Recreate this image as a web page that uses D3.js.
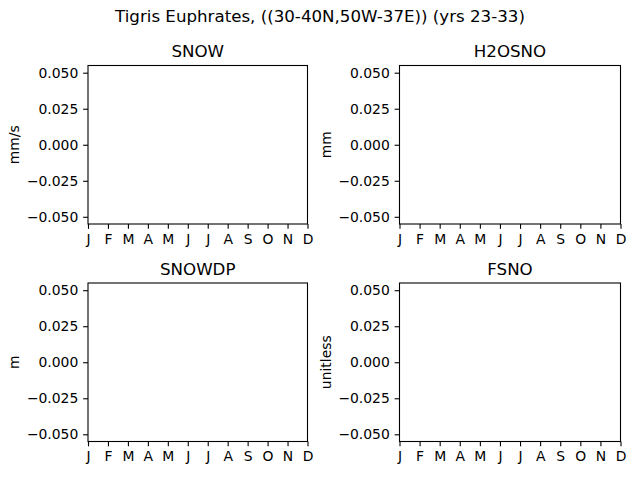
<!DOCTYPE html>
<html><head><meta charset="utf-8">
<script src="https://cdn.jsdelivr.net/npm/d3@7"></script>
<style>body{margin:0;background:#fff}svg{display:block;font-family:"DejaVu Sans",sans-serif}</style>
</head><body>
<script>
const months = ["J","F","M","A","M","J","J","A","S","O","N","D"];
const panelTitles = ["SNOW","H2OSNO","SNOWDP","FSNO"];
const panelUnits = ["mm/s","mm","m","unitless"];
const seriesValues = [[],[],[],[]]; // no data in this region
const yTicks = [-0.05,-0.025,0,0.025,0.05];
const yDomain = [-0.055,0.055];
const suptitle = "Tigris Euphrates, ((30-40N,50W-37E)) (yrs 23-33)";

const W=640,H=480;
const svg=d3.select("body").append("svg").attr("width",W).attr("height",H);
svg.append("text").attr("x",320).attr("y",22).attr("text-anchor","middle")
  .attr("font-size",16.67).text(suptitle);

const cols=[[88,307.5],[399.5,620.5]];
const rows=[[65.5,224],[283,441.5]];
const fmt=v=>d3.format(".3f")(v).replace("-","\u2212");

panelTitles.forEach((t,i)=>{
  const [x0,x1]=cols[i%2],[y0,y1]=rows[Math.floor(i/2)];
  const x=d3.scaleLinear().domain([0,11]).range([x0,x1]);
  const y=d3.scaleLinear().domain(yDomain).range([y1,y0]);
  const g=svg.append("g");
  const ya=g.append("g").attr("transform",`translate(${x0},0)`)
    .call(d3.axisLeft(y).tickValues(yTicks).tickFormat(fmt).tickSize(4.86).tickPadding(4.86));
  ya.select(".domain").remove();
  const xa=g.append("g").attr("transform",`translate(0,${y1})`)
    .call(d3.axisBottom(x).tickValues(d3.range(12)).tickFormat(d=>months[d]).tickSize(4.86).tickPadding(4.86));
  xa.select(".domain").remove();
  [ya,xa].forEach(a=>{a.selectAll("text").attr("font-size",13.9).attr("font-family","DejaVu Sans").attr("fill","#000");
    a.selectAll("line").attr("stroke","#000").attr("stroke-width",1.1);});
  g.append("path").datum(seriesValues[i]).attr("fill","none").attr("stroke","#1f77b4")
    .attr("d",d3.line().x((d,j)=>x(j)).y(d=>y(d)));
  g.append("rect").attr("x",x0).attr("y",y0).attr("width",x1-x0).attr("height",y1-y0)
    .attr("fill","none").attr("stroke","#000").attr("stroke-width",1.1);
  g.append("text").attr("x",(x0+x1)/2).attr("y",y0-8.3).attr("text-anchor","middle")
    .attr("font-size",16.67).text(t);
  const lx=x0-69, ly=(y0+y1)/2;
  g.append("text").attr("transform",`translate(${lx},${ly}) rotate(-90)`).attr("text-anchor","middle")
    .attr("font-size",13.9).text(panelUnits[i]);
});
</script>
</body></html>
